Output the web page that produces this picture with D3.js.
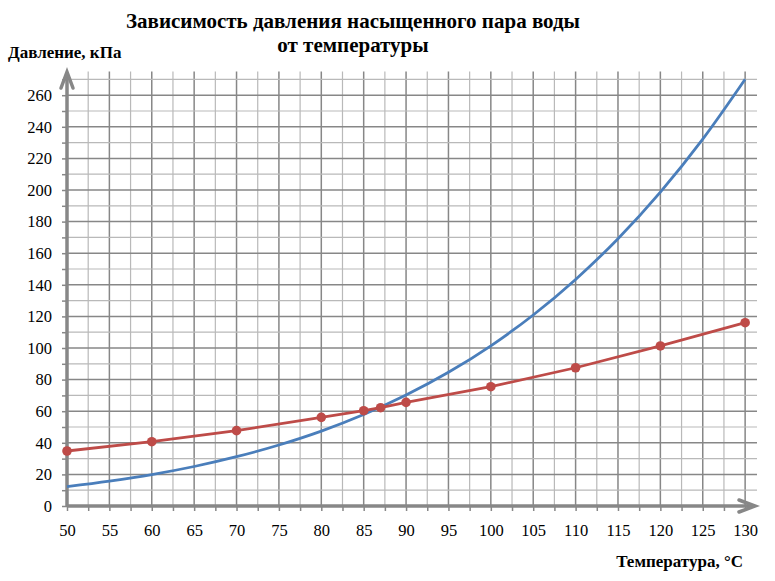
<!DOCTYPE html>
<html>
<head>
<meta charset="utf-8">
<script src="https://cdn.jsdelivr.net/npm/d3@7"></script>
<style>
  body { margin: 0; background: #fff; }
</style>
</head>
<body>
<div id="chart"></div>
<script>
// Data
var xTickLabels = [50, 55, 60, 65, 70, 75, 80, 85, 90, 95, 100, 105, 110, 115, 120, 125, 130];
var yTickLabels = [0, 20, 40, 60, 80, 100, 120, 140, 160, 180, 200, 220, 240, 260];

// blue curve: saturated vapour pressure
var blueTemp = [50, 55, 60, 65, 70, 75, 80, 85, 90, 95, 100, 105, 110, 115, 120, 125, 130];
var bluePressure = [12.3, 15.8, 19.9, 25.0, 31.2, 38.6, 47.4, 57.9, 70.2, 84.6, 101.4, 120.9, 143.4, 169.2, 198.7, 232.2, 270.1];

// red line with markers
var redTemp = [50, 60, 70, 80, 85, 87, 90, 100, 110, 120, 130];
var redPressure = [34.8, 40.7, 47.7, 56.1, 60.3, 62.2, 65.6, 75.5, 87.5, 101.3, 116.0];

var titleLines = ["Зависимость давления насыщенного пара воды", "от температуры"];
var yTitle = "Давление, кПа";
var xTitle = "Температура, °С";

var fontName = "Liberation Serif";

var svgWidth = 775;
var svgHeight = 581;

var margin = { top: 71.5, right: 18, bottom: 75, left: 67 };
var chartWidth = svgWidth - margin.left - margin.right;
var chartHeight = svgHeight - margin.top - margin.bottom;

var svg = d3.select("#chart")
  .append("svg")
  .attr("width", svgWidth)
  .attr("height", svgHeight)
  .attr("font-family", fontName);

var chartGroup = svg.append("g")
  .attr("transform", `translate(${margin.left}, ${margin.top})`);

var scaleX = d3.scaleLinear().domain([50, 131.4]).range([0, chartWidth]);
var scaleY = d3.scaleLinear().domain([0, 275]).range([chartHeight, 0]);

// grid: every 2.5 deg, every 10 kPa; darker on labelled values
var vLines = d3.range(52.5, 130.01, 2.5);
var hLines = d3.range(10, 270.01, 10);

chartGroup.selectAll(".vgrid")
  .data(vLines)
  .enter()
  .append("line")
  .attr("x1", d => scaleX(d))
  .attr("x2", d => scaleX(d))
  .attr("y1", 0)
  .attr("y2", chartHeight)
  .attr("stroke", d => d % 5 === 0 ? "#878787" : "#b9b9b9")
  .attr("stroke-width", d => d % 5 === 0 ? 1.5 : 1.2);

chartGroup.selectAll(".hgrid")
  .data(hLines)
  .enter()
  .append("line")
  .attr("x1", 0)
  .attr("x2", chartWidth)
  .attr("y1", d => scaleY(d))
  .attr("y2", d => scaleY(d))
  .attr("stroke", d => d % 20 === 0 ? "#878787" : "#b9b9b9")
  .attr("stroke-width", d => d % 20 === 0 ? 1.5 : 1.2);

// axes
var yAxis = d3.axisLeft(scaleY)
  .tickValues(d3.range(0, 270.01, 10))
  .tickSize(5)
  .tickPadding(10)
  .tickFormat(d => yTickLabels.indexOf(d) >= 0 ? d : "");
var yAxisGroup = chartGroup.append("g").call(yAxis);

var xAxis = d3.axisBottom(scaleX)
  .tickValues(d3.range(50, 130.01, 2.5))
  .tickSize(5)
  .tickPadding(13)
  .tickFormat(d => xTickLabels.indexOf(d) >= 0 ? d : "");
var xAxisGroup = chartGroup.append("g")
  .attr("transform", `translate(0, ${chartHeight})`)
  .call(xAxis);

[yAxisGroup, xAxisGroup].forEach(function(g) {
  g.attr("font-family", fontName).attr("font-size", 16.5);
  g.select(".domain").remove();
  g.selectAll(".tick line").attr("stroke", "#878787").attr("stroke-width", 1.5);
  g.selectAll(".tick text").attr("fill", "#000");
});

// thick axis lines with open arrows
var axisColor = "#878787";
var yTop = scaleY(275) + 0.5;
var xEnd = chartWidth - 2;
chartGroup.append("line")
  .attr("x1", 0).attr("x2", 0)
  .attr("y1", chartHeight).attr("y2", yTop + 1)
  .attr("stroke", axisColor).attr("stroke-width", 3.5);
chartGroup.append("path")
  .attr("d", `M${-6},${yTop + 16}L0,${yTop}L6,${yTop + 16}`)
  .attr("fill", "none").attr("stroke", axisColor).attr("stroke-width", 3.5)
  .attr("stroke-linecap", "round");
chartGroup.append("line")
  .attr("x1", 0).attr("x2", xEnd - 1)
  .attr("y1", chartHeight).attr("y2", chartHeight)
  .attr("stroke", axisColor).attr("stroke-width", 3.5);
chartGroup.append("path")
  .attr("d", `M${xEnd - 16},${chartHeight - 6}L${xEnd},${chartHeight}L${xEnd - 16},${chartHeight + 6}`)
  .attr("fill", "none").attr("stroke", axisColor).attr("stroke-width", 3.5)
  .attr("stroke-linecap", "round");

// blue curve
var blueData = blueTemp.map((t, i) => ({ t: t, p: bluePressure[i] }));
var blueLine = d3.line()
  .x(d => scaleX(d.t))
  .y(d => scaleY(d.p))
  .curve(d3.curveMonotoneX);
chartGroup.append("path")
  .datum(blueData)
  .attr("d", blueLine)
  .attr("fill", "none")
  .attr("stroke", "#4a7ebb")
  .attr("stroke-width", 2.8);

// red line and markers
var redData = redTemp.map((t, i) => ({ t: t, p: redPressure[i] }));
var redLine = d3.line()
  .x(d => scaleX(d.t))
  .y(d => scaleY(d.p));
chartGroup.append("path")
  .datum(redData)
  .attr("d", redLine)
  .attr("fill", "none")
  .attr("stroke", "#be4b48")
  .attr("stroke-width", 2.8);
chartGroup.selectAll(".redDot")
  .data(redData)
  .enter()
  .append("circle")
  .attr("cx", d => scaleX(d.t))
  .attr("cy", d => scaleY(d.p))
  .attr("r", 4.8)
  .attr("fill", "#be4b48");

// titles
svg.selectAll(".title")
  .data(titleLines)
  .enter()
  .append("text")
  .attr("x", 353)
  .attr("y", (d, i) => 27.5 + i * 24.5)
  .attr("text-anchor", "middle")
  .attr("font-family", fontName)
  .attr("font-size", 21)
  .attr("font-weight", "bold")
  .text(d => d);

svg.append("text")
  .attr("x", 8)
  .attr("y", 58)
  .attr("font-family", fontName)
  .attr("font-size", 17)
  .attr("font-weight", "bold")
  .text(yTitle);

svg.append("text")
  .attr("x", 743)
  .attr("y", 567)
  .attr("text-anchor", "end")
  .attr("font-family", fontName)
  .attr("font-size", 17)
  .attr("font-weight", "bold")
  .text(xTitle);
</script>
</body>
</html>
